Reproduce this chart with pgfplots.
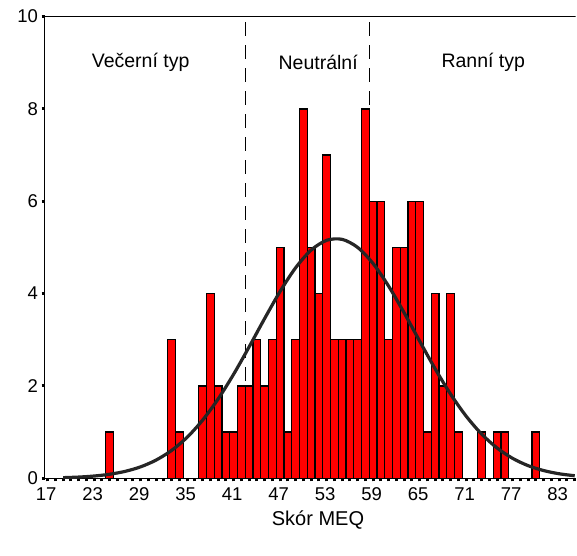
\documentclass[border=0pt]{standalone}
\usepackage{fontspec}
\setmainfont{Liberation Sans}
\usepackage{pgfplots}
\usepackage{pgfplotstable}
\pgfplotsset{compat=1.18}
\pgfplotstableread{
score count
25 1
33 3
34 1
37 2
38 4
39 2
40 1
41 1
42 2
43 2
44 3
45 2
46 3
47 5
48 1
49 3
50 8
51 5
52 4
53 7
54 3
55 3
56 3
57 3
58 8
59 6
60 6
61 3
62 5
63 5
64 6
65 6
66 1
67 4
68 2
69 4
70 1
73 1
75 1
76 1
80 1
}\meqdata
\pgfplotstableread{
x y
19 0.0138
21 0.0265
23 0.0491
25 0.0876
27 0.150
29 0.248
31 0.395
33 0.604
35 0.888
37 1.260
39 1.718
41 2.254
43 2.847
45 3.461
47 4.049
49 4.560
51 4.942
53 5.154
55 5.174
57 4.999
59 4.648
61 4.159
63 3.582
65 2.969
67 2.369
69 1.819
71 1.344
73 0.956
75 0.654
77 0.431
79 0.273
81 0.167
83 0.0979
85 0.0553
}\normcurve
\begin{document}
\begin{tikzpicture}
\path[use as bounding box] (-44.5bp,-77.7bp) rectangle (532.5bp,478.3bp);
\begin{axis}[
  at={(0,0)}, anchor=south west,
  scale only axis, width=531bp, height=461.8bp,
  xmin=16.6, xmax=85.1, ymin=0, ymax=10,
  axis lines=left,
  axis line style={-, line width=1.5bp, black},
  xtick={17,23,...,83}, minor xtick={17,...,85},
  ytick={0,2,...,10},
  tick align=outside,
  major tick length=3bp, minor tick length=3bp,
  major tick style={line width=3bp, black},
  minor tick style={line width=3bp, black},
  tick label style={font=\fontsize{18.5bp}{22bp}\selectfont},
  xticklabel style={yshift=-3bp, xshift=-1.5bp},
  /pgf/number format/assume math mode=true,
  xlabel={Skór MEQ},
  xlabel style={font=\fontsize{20bp}{24bp}\selectfont, at={(axis description cs:0.515,0)}, anchor=center, yshift=-42bp},
  clip=true,
]
\addplot[black, line width=1.5bp, dash pattern=on 14bp off 9bp] coordinates {(42.5,9.88) (42.5,0)};
\addplot[black, line width=1.5bp, dash pattern=on 14bp off 9bp] coordinates {(58.5,9.88) (58.5,0)};
\addplot[ybar, bar width=1, fill=red, draw=black, line width=1.3bp] table[x=score, y=count] {\meqdata};
\addplot[smooth, black!85, line width=3.2bp] table[x=x, y=y] {\normcurve};
\node[font=\fontsize{19.5bp}{24bp}\selectfont] at (axis cs:29,9) {Večerní typ};
\node[font=\fontsize{19.5bp}{24bp}\selectfont] at (axis cs:51.9,9) {Neutrální};
\node[font=\fontsize{19.5bp}{24bp}\selectfont] at (axis cs:73.2,9) {Ranní typ};
\draw[line width=1.5bp, black] (rel axis cs:0,1) -- (rel axis cs:1,1);
\end{axis}
\end{tikzpicture}
\end{document}
